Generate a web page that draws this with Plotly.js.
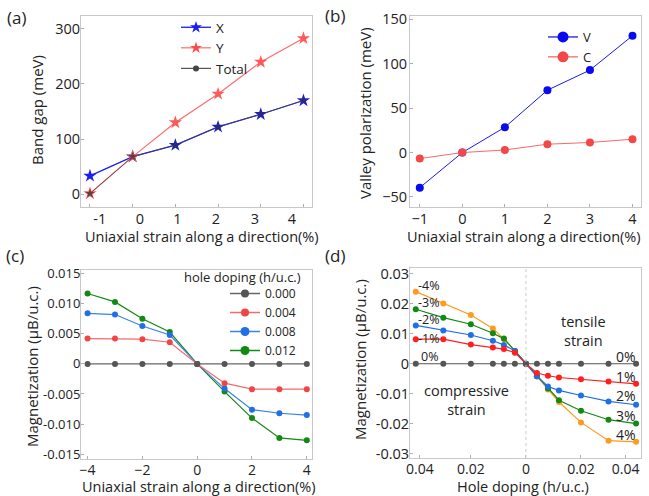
<!DOCTYPE html>
<html>
<head>
<meta charset="utf-8">
<script src="https://cdn.plot.ly/plotly-3.0.1.min.js"></script>
<style>
html,body{margin:0;padding:0;background:#fff;}
#chart{width:649px;height:496px;}
</style>
</head>
<body>
<div id="chart"></div>
<script>
// ---------- data ----------
// (a) band gap
const strainA = [-1, 0, 1, 2, 3, 4];
const gapX = [33, 68, 89, 122, 145, 170];
const gapY = [1, 68, 130, 182, 240, 283];
const gapTotal = [1, 68, 89, 122, 145, 170];
const tickTextA = ['-1', '0', '1', '2', '3', '4'];
const yTicksA = [0, 100, 200, 300];

// (b) valley polarization
const strainB = [-1, 0, 1, 2, 3, 4];
const valleyV = [-39.5, 0, 28.5, 70.2, 92.8, 131.5];
const valleyC = [-6.8, 0, 2.9, 9.4, 11.3, 15.0];
const yTicksB = [-50, 0, 50, 100, 150];

// (c) magnetization vs strain for hole dopings
const strainC = [-4, -3, -2, -1, 0, 1, 2, 3, 4];
const dopingLabels = ['0.000', '0.004', '0.008', '0.012'];
const m000 = [0, 0, 0, 0, 0, 0, 0, 0, 0];
const m004 = [0.0042, 0.0042, 0.0041, 0.0036, 0, -0.0032, -0.0042, -0.0042, -0.0042];
const m008 = [0.0084, 0.0082, 0.0063, 0.0048, 0, -0.0041, -0.0076, -0.0082, -0.0085];
const m012 = [0.0117, 0.0103, 0.0075, 0.0053, 0, -0.0046, -0.0090, -0.0123, -0.0127];
const yTicksC = [-0.015, -0.010, -0.005, 0, 0.005, 0.010, 0.015];
const yTickTextC = ['-0.015', '-0.010', '-0.005', '0', '0.005', '0.010', '0.015'];
const xTicksC = [-4, -2, 0, 2, 4];

// (d) magnetization vs hole doping (left: compressive, right: tensile)
const dopingD = [-0.04, -0.03, -0.02, -0.012, -0.008, -0.004, 0, 0.004, 0.008, 0.012, 0.02, 0.03, 0.04];
const d4 = [0.0241, 0.0201, 0.0163, 0.0118, 0.0083, 0.0043, 0, -0.0042, -0.0086, -0.0128, -0.0196, -0.0257, -0.0261];
const d3 = [0.0182, 0.0154, 0.0132, 0.0102, 0.0084, 0.0043, 0, -0.0042, -0.0083, -0.0122, -0.0157, -0.0187, -0.0200];
const d2 = [0.0128, 0.0111, 0.0096, 0.0077, 0.0063, 0.0043, 0, -0.0042, -0.0076, -0.0089, -0.0106, -0.0126, -0.0137];
const d1 = [0.0082, 0.0082, 0.0064, 0.0054, 0.0049, 0.0037, 0, -0.0031, -0.0040, -0.0046, -0.0052, -0.0059, -0.0067];
const d0 = [0, 0, 0, 0, 0, 0, 0, 0, 0, 0, 0, 0, 0];
const leftLabelsD = ['-4%', '-3%', '-2%', '-1%', '0%'];
const rightLabelsD = ['0%', '1%', '2%', '3%', '4%'];
const xTickTextD = ['0.04', '0.02', '0', '0.02', '0.04'];
const yTicksD = [-0.03, -0.02, -0.01, 0, 0.01, 0.02, 0.03];
const yTickTextD = ['-0.03', '-0.02', '-0.01', '0', '0.01', '0.02', '0.03'];

// ---------- helpers ----------
const W = 649, H = 496;
const px = v => v / W;
const py = v => 1 - v / H;
const FONT = '"Open Sans", "Noto Sans", sans-serif';
const TXT = '#222';

const traces = [];
const noData = {x: [null], y: [null]};

// (a)
traces.push({x: strainA, y: gapX, xaxis: 'x', yaxis: 'y', mode: 'lines+markers', showlegend: false,
  line: {color: '#1c1cf5', width: 1.3}, marker: {symbol: 'star', size: 10, color: '#1c1cf5'}});
traces.push({x: strainA, y: gapY, xaxis: 'x', yaxis: 'y', mode: 'lines+markers', showlegend: false,
  line: {color: '#ff6b6b', width: 1.2}, marker: {symbol: 'star', size: 10, color: '#ff5a5a'}});
traces.push({x: strainA, y: gapTotal, xaxis: 'x', yaxis: 'y', mode: 'lines+markers', showlegend: false,
  opacity: 0.75, line: {color: '#444', width: 1}, marker: {symbol: 'star', size: 7, color: '#333'}});
traces.push(Object.assign({name: 'X', xaxis: 'x', yaxis: 'y', mode: 'lines+markers', legend: 'legend',
  line: {color: '#1c1cf5', width: 1.3}, marker: {symbol: 'star', size: 9, color: '#1c1cf5'}}, noData));
traces.push(Object.assign({name: 'Y', xaxis: 'x', yaxis: 'y', mode: 'lines+markers', legend: 'legend',
  line: {color: '#ff6b6b', width: 1.2}, marker: {symbol: 'star', size: 9, color: '#ff4a4a'}}, noData));
traces.push(Object.assign({name: 'Total', xaxis: 'x', yaxis: 'y', mode: 'lines+markers', legend: 'legend',
  line: {color: '#555', width: 1.2}, marker: {symbol: 'circle', size: 6, color: '#444'}}, noData));

// (b)
traces.push({x: strainB, y: valleyV, xaxis: 'x2', yaxis: 'y2', mode: 'lines+markers', showlegend: false,
  line: {color: '#1a1af0', width: 1}, marker: {size: 8, color: '#0a0aee'}});
traces.push({x: strainB, y: valleyC, xaxis: 'x2', yaxis: 'y2', mode: 'lines+markers', showlegend: false,
  line: {color: '#f56a6a', width: 1}, marker: {size: 8, color: '#f24848'}});
traces.push(Object.assign({name: 'V', xaxis: 'x2', yaxis: 'y2', mode: 'lines+markers', legend: 'legend2',
  line: {color: '#1a1af0', width: 1.3}, marker: {size: 11, color: '#0a0aee'}}, noData));
traces.push(Object.assign({name: 'C', xaxis: 'x2', yaxis: 'y2', mode: 'lines+markers', legend: 'legend2',
  line: {color: '#f56a6a', width: 1.3}, marker: {size: 11, color: '#f24848'}}, noData));

// (c)
const colC = ['#555555', '#f04545', '#1f6fe6', '#128a12'];
const lineC = ['#666666', '#f56a6a', '#3a80ea', '#128a12'];
const serC = [m000, m004, m008, m012];
[3, 2, 1, 0].forEach(i => {
  traces.push({x: strainC, y: serC[i], xaxis: 'x3', yaxis: 'y3', mode: 'lines+markers', showlegend: false,
    line: {color: lineC[i], width: 1.2}, marker: {size: 6, color: colC[i]}});
});
[0, 1, 2, 3].forEach(i => {
  traces.push(Object.assign({name: dopingLabels[i], xaxis: 'x3', yaxis: 'y3', mode: 'lines+markers', legend: 'legend3',
    line: {color: lineC[i], width: 1.5}, marker: {size: i < 2 ? 8 : 9, color: colC[i]}}, noData));
});

// (d)
const serD = [d4, d3, d2, d1, d0];
const colD = ['#ff9a1f', '#128a12', '#1f6fe6', '#ff1f1f', '#555555'];
serD.forEach((s, i) => {
  traces.push({x: dopingD, y: s, xaxis: 'x4', yaxis: 'y4', mode: 'lines+markers', showlegend: false,
    line: {color: colD[i], width: 1.2}, marker: {size: 6, color: colD[i]}});
});

// ---------- layout ----------
function ax(extra) {
  return Object.assign({
    showline: true, mirror: true, linecolor: '#c8c8c8', linewidth: 1,
    ticks: 'inside', ticklen: 3, tickcolor: '#b0b0b0', tickwidth: 1,
    showgrid: false, zeroline: false,
    tickfont: {family: FONT, size: 14.5, color: TXT}
  }, extra);
}

const annotations = [];
function note(text, x, y, size, extra) {
  annotations.push(Object.assign({text: text, xref: 'paper', yref: 'paper', x: px(x), y: py(y),
    xanchor: 'center', yanchor: 'middle', showarrow: false,
    font: {family: FONT, size: size, color: TXT}}, extra || {}));
}
// panel labels
note('(a)', 16, 17, 17);
note('(b)', 335, 16, 17);
note('(c)', 15, 255, 17);
note('(d)', 335, 255, 17);
// axis titles
const XT = 'Uniaxial strain along a direction(%)';
note(XT, 202, 236.5, 14.5);
note(XT, 524, 236.5, 14.5);
note(XT, 199, 486, 14.5);
note('Hole doping (h/u.c.)', 523, 486, 14.5);
note('Band gap (meV)', 37, 110, 15, {textangle: -90});
note('Valley polarization (meV)', 365, 113, 15, {textangle: -90});
note('Magnetization (\u03bcB/u.c.)', 32, 367, 15, {textangle: -90});
note('Magnetization (\u03bcB/u.c.)', 360, 359, 15, {textangle: -90});
// legend title (c)
note('hole doping (h/u.c.)', 242, 277, 13);
// (d) strain labels
const leftY = [285, 302, 319.5, 338, 356];
leftLabelsD.forEach((t, i) => note(t, 429, leftY[i], 12.5));
const rightY = [356, 376, 395, 415, 434];
rightLabelsD.forEach((t, i) => note(t, 626, rightY[i], 14));
note('tensile<br>strain', 583, 331, 14.5);
note('compressive<br>strain', 467, 400, 14.5);

const layout = {
  width: W, height: H,
  margin: {l: 0, r: 0, t: 0, b: 0},
  paper_bgcolor: '#fff', plot_bgcolor: '#fff',
  font: {family: FONT, color: TXT},
  xaxis: ax({domain: [px(81), px(312)], anchor: 'y', range: [-1.21, 4.2],
    tickmode: 'array', tickvals: [-0.77, 0.17, 1.05, 1.95, 2.86, 3.73], ticktext: tickTextA, ticklen: 0,
    ticklabelstandoff: -1,
    minor: {tickmode: 'array', tickvals: strainA, ticks: 'inside', ticklen: 3, tickcolor: '#b0b0b0'}}),
  yaxis: ax({domain: [py(207), py(16)], anchor: 'x', range: [-23.6, 323.6],
    tickmode: 'array', tickvals: yTicksA, ticklabelstandoff: -3}),
  xaxis2: ax({domain: [px(410), px(641)], anchor: 'y2', range: [-1.23, 4.2],
    tickmode: 'array', tickvals: strainB, ticklabelstandoff: -1}),
  yaxis2: ax({domain: [py(207), py(16)], anchor: 'x2', range: [-61.3, 153.7],
    tickmode: 'array', tickvals: yTicksB, ticklabelstandoff: -1}),
  xaxis3: ax({domain: [px(81), px(312)], anchor: 'y3', range: [-4.24, 4.19],
    tickmode: 'array', tickvals: xTicksC, ticklabelstandoff: -2,
    tickfont: {family: FONT, size: 14, color: TXT}}),
  yaxis3: ax({domain: [py(459), py(270)], anchor: 'x3', range: [-0.0158, 0.0156],
    tickmode: 'array', tickvals: yTicksC, ticktext: yTickTextC, ticklabelstandoff: -3,
    tickfont: {family: FONT, size: 13, color: TXT}}),
  xaxis4: ax({domain: [px(410), px(641)], anchor: 'y4', range: [-0.0421, 0.0418],
    tickmode: 'array', tickvals: [-0.0385, -0.02, 0, 0.02, 0.0362], ticktext: xTickTextD, ticklabelstandoff: -2,
    tickfont: {family: FONT, size: 14, color: TXT}}),
  yaxis4: ax({domain: [py(458), py(268)], anchor: 'x4', range: [-0.0315, 0.032],
    tickmode: 'array', tickvals: yTicksD, ticktext: yTickTextD, ticklabelstandoff: -3,
    tickfont: {family: FONT, size: 14.5, color: TXT}}),
  legend: {x: px(176), y: py(12), xanchor: 'left', yanchor: 'top', bgcolor: 'rgba(0,0,0,0)',
    font: {family: FONT, size: 13.5, color: TXT}},
  legend2: {x: px(543), y: py(22), xanchor: 'left', yanchor: 'top', bgcolor: 'rgba(0,0,0,0)',
    font: {family: FONT, size: 13, color: TXT}},
  legend3: {x: px(225), y: py(279), xanchor: 'left', yanchor: 'top', bgcolor: 'rgba(0,0,0,0)',
    font: {family: FONT, size: 12, color: TXT}},
  shapes: [{type: 'line', xref: 'x4', yref: 'y4 domain', x0: 0, x1: 0, y0: 0, y1: 1,
    line: {color: '#cccccc', width: 1, dash: 'dot'}}],
  annotations: annotations
};

Plotly.newPlot('chart', traces, layout, {displayModeBar: false, staticPlot: true});
</script>
</body>
</html>
